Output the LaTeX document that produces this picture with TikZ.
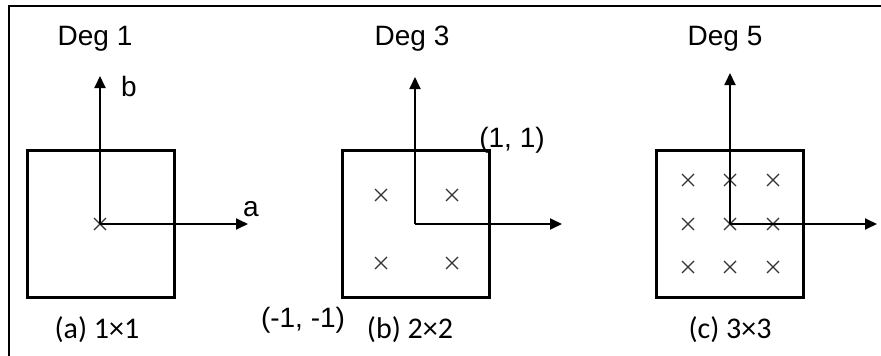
\documentclass[tikz,border=0pt]{standalone}
\usepackage{fontspec}
\setmainfont{Liberation Sans}
\newfontfamily\capfont{Carlito}
\usepackage{tikz}
\usetikzlibrary{arrows.meta,positioning,calc}

\begin{document}
\begin{tikzpicture}[
  x=1pt, y=-1pt,
  cell/.style={
    draw=black, line width=3pt, minimum width=147pt, minimum height=147pt,
    inner sep=0pt
  },
  axis/.style={-{Triangle[length=12pt, width=11pt]}, line width=1.8pt},
  lbl/.style={font=\fontsize{28}{32}\selectfont, inner sep=0pt, anchor=base},
  subcap/.style={font=\capfont\fontsize{30}{34}\selectfont, inner sep=0pt, anchor=base},
  xmark/.pic={\draw[line width=1.1pt, black!80] (-6,-6) -- (6,6) (-6,6) -- (6,-6);}
]
  \useasboundingbox (0,0) rectangle (881,356);
  % frame
  \draw[line width=1.6pt] (9,356) -- (9,6) -- (881,6);

  % squares
  \node[cell] (sqa) at (101,224) {};
  \node[cell] (sqb) at (415.5,224) {};
  \node[cell] (sqc) at (730,224) {};

  % axis origins and tips
  \coordinate (oa) at (100,224);
  \coordinate (ob) at (415,224);
  \coordinate (oc) at (730,224);
  \coordinate (ua) at (100,76);
  \coordinate (ub) at (415,77);
  \coordinate (uc) at (730,73);
  \coordinate (ra) at (248,224);
  \coordinate (rb) at (562,224);
  \coordinate (rc) at (877,224);

  % sample points
  \pic at (oa) {xmark};
  \foreach \px in {381,452}
    \foreach \py in {195,263}
      \pic at (\px,\py) {xmark};
  \foreach \px in {688,730,773}
    \foreach \py in {180,224,267}
      \pic at (\px,\py) {xmark};

  \draw[axis] (oa) -- (ua);
  \draw[axis] (oa) -- (ra);
  \draw[axis] (ob) -- (ub);
  \draw[axis] (ob) -- (rb);
  \draw[axis] (oc) -- (uc);
  \draw[axis] (oc) -- (rc);

  % labels
  \node[lbl] (dega) at (95,45) {Deg 1};
  \node[lbl] (degb) at (412,45) {Deg 3};
  \node[lbl] (degc) at (725,45) {Deg 5};
  \node[lbl] (bl) at (129,96) {b};
  \node[lbl] (al) at (251,216) {a};
  \node[lbl] (tr) at (512,147) {(1, 1)};
  \node[lbl] (bl2) at (303,327) {(-1, -1)};
  \node[subcap] (capa) at (97,338) {(a) 1×1};
  \node[subcap] (capb) at (410,338) {(b) 2×2};
  \node[subcap] (capc) at (730,338) {(c) 3×3};
\end{tikzpicture}
\end{document}
